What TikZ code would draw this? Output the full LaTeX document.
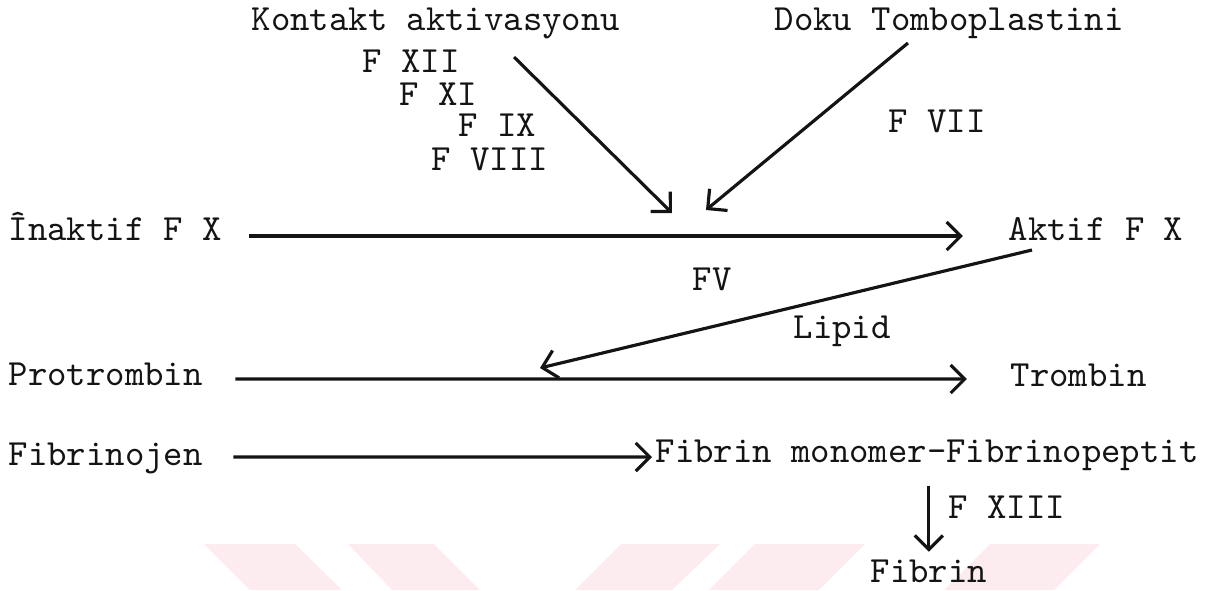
\documentclass[tikz,border=0pt]{standalone}
\usepackage{tikz}
\usetikzlibrary{positioning, arrows.meta}
\definecolor{ink}{RGB}{20,20,20}
\definecolor{markpink}{RGB}{252,236,240}
\tikzset{
  label/.style={
    text=ink, font=\fontsize{10.5}{12}\selectfont\ttfamily,
    inner sep=0pt, anchor=base west
  },
  flow/.style={-{Straight Barb[length=4pt, width=8pt]}, line width=0.9pt, ink},
  stamp/.style={fill=markpink, draw=none}
}

\begin{document}
\begin{tikzpicture}[x=0.01cm, y=-0.01cm]
  \useasboundingbox (0,0) rectangle (1229,590);
  % watermark band
  \fill[stamp] (204,544) -- (295,544) -- (342,590) -- (250,590) -- cycle;
  \fill[stamp] (348,544) -- (434,544) -- (480,590) -- (392,590) -- cycle;
  \fill[stamp] (621,544) -- (720,544) -- (672,590) -- (575,590) -- cycle;
  \fill[stamp] (755,544) -- (865,544) -- (819,590) -- (709,590) -- cycle;
  \fill[stamp] (990,544) -- (1100,544) -- (1054,590) -- (944,590) -- cycle;

  \node[label] (kontakt) at (251,30) {Kontakt aktivasyonu};
  \node[label] (doku) at (774,30) {Doku Tomboplastini};
  \node[label] (f12) at (362,72) {F XII};
  \node[label] (f11) at (399,105) {F XI};
  \node[label] (f9) at (458,136) {F IX};
  \node[label] (f8) at (431,170) {F VIII};
  \node[label] (f7) at (888,132) {F VII};
  \node[label] (inaktif) at (8,240) {Înaktif F X};
  \node[label] (aktif) at (1008,240) {Aktif F X};
  \node[label] (f5) at (692,290) {FV};
  \node[label] (lipid) at (793,338) {Lipid};
  \node[label] (protrombin) at (8,385) {Protrombin};
  \node[label] (trombin) at (1010,386) {Trombin};
  \node[label] (fibrinojen) at (8,465) {Fibrinojen};
  \node[label] (monomer) at (655,462) {Fibrin monomer-Fibrinopeptit};
  \node[label] (f13) at (948,518) {F XIII};
  \node[label] (fibrin) at (870,582) {Fibrin};

  \coordinate (kstart) at (514,57);
  \coordinate (kend) at (672,213);
  \coordinate (dstart) at (908,43);
  \coordinate (dend) at (706,210);
  \coordinate (astart) at (1032,250);
  \coordinate (aend) at (540,368);

  \draw[flow] (kstart) -- (kend);
  \draw[flow] (dstart) -- (dend);
  \draw[flow] ([xshift=0.26cm, yshift=0.04cm]inaktif.base east) -- ([xshift=-0.45cm, yshift=0.04cm]aktif.base west);
  \draw[flow] (astart) -- (aend);
  \draw[flow] ([xshift=0.32cm, yshift=0.06cm]protrombin.base east) -- ([xshift=-0.43cm, yshift=0.07cm]trombin.base west);
  \draw[flow] ([xshift=0.30cm, yshift=0.08cm]fibrinojen.base east) -- ([xshift=-0.03cm, yshift=0.05cm]monomer.base west);
  \draw[flow, shorten <=0.15cm, shorten >=0.07cm] (fibrin.north |- monomer.south) -- (fibrin.north);
\end{tikzpicture}
\end{document}
